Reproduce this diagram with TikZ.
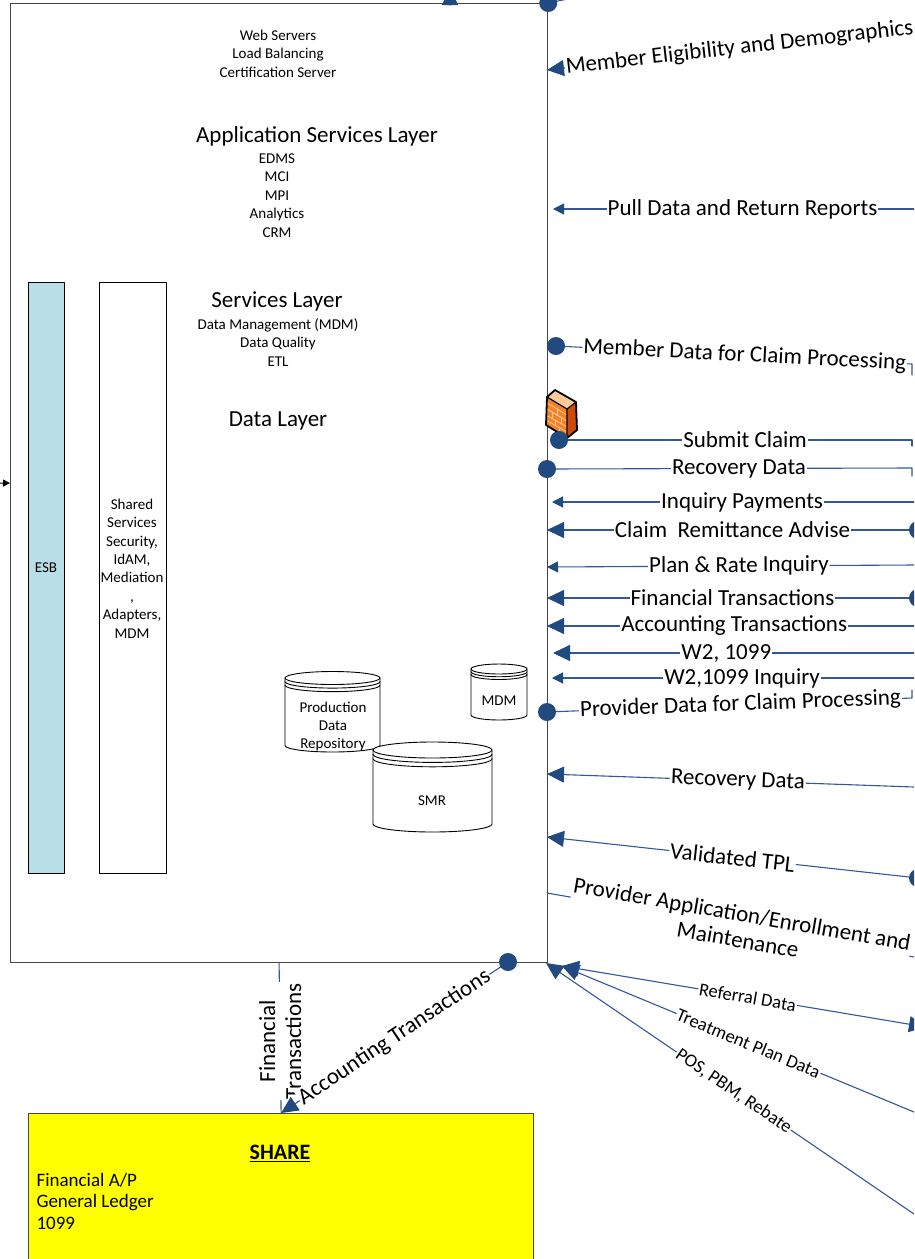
\documentclass[tikz,border=0pt]{standalone}
\usepackage{fontspec}
\setmainfont{Carlito}
\usepackage{tikz}
\usetikzlibrary{arrows.meta}
\definecolor{zzqqtt}{rgb}{0.13,0.29,0.5}
\definecolor{zzuutt}{rgb}{0.2,0.34,0.6}
\definecolor{bbddee}{rgb}{0.72,0.87,0.91}
\definecolor{ffffqq}{rgb}{1,1,0}
\definecolor{uuuuuu}{rgb}{0.27,0.27,0.27}
\definecolor{ffttqq}{rgb}{0.96,0.51,0.16}
\definecolor{ddzzqq}{rgb}{0.8,0.3,0.05}
\definecolor{ffccww}{rgb}{1,0.8,0.6}
% left x, right x, top centre y, bottom centre y, y radius
\newcommand{\dbcyl}[5]{%
	\filldraw[fill=white,draw=black,line width=0.9pt] (#1,#3) -- (#1,#4) arc[start angle=180,end angle=0,x radius={(#2-#1)/2},y radius=#5] -- (#2,#3) arc[start angle=0,end angle=-180,x radius={(#2-#1)/2},y radius=#5] -- cycle;
	\draw[line width=0.9pt] (#1,#3) arc[start angle=180,end angle=0,x radius={(#2-#1)/2},y radius=#5];
	\draw[line width=0.9pt] (#1,#3+0.55*#5) arc[start angle=180,end angle=0,x radius={(#2-#1)/2},y radius=#5];
	\draw[line width=0.9pt] (#1,#3+1.1*#5) arc[start angle=180,end angle=0,x radius={(#2-#1)/2},y radius=#5];}

\begin{document}
\begin{tikzpicture}[line cap=round,line join=round,x=1pt,y=-1pt,
	conn/.style={draw=zzuutt,line width=1.1pt},
	arrL/.style={conn,-{Triangle[length=17pt,width=16pt,color=zzqqtt]}},
	arrS/.style={conn,-{Triangle[length=11pt,width=11pt,color=zzqqtt]}},
	lab/.style={fill=white,inner sep=1pt,font=\fontsize{23}{26}\selectfont},
	labs/.style={fill=white,inner sep=1pt,font=\fontsize{18.5}{21}\selectfont},
	txt/.style={font=\fontsize{15}{18.4}\selectfont,align=center},
	layer/.style={font=\fontsize{23}{26}\selectfont}]
	\useasboundingbox (0,0) rectangle (914,1259);
	\clip (0,0) rectangle (914,1259);
	% system box and its inner columns
	\node (sys) [draw=uuuuuu,line width=1.2pt,minimum width=537,minimum height=959,anchor=north west,inner sep=0] at (10,3) {};
	\node (esb) [draw=black,fill=bbddee,line width=1pt,minimum width=36,minimum height=591,anchor=north west,inner sep=0] at (28,282) {};
	\node (esbtxt) [txt] at (46,568) {ESB};
	\node (shs) [draw=black,line width=1pt,minimum width=67,minimum height=591,anchor=north west,inner sep=0] at (99,282) {};
	\node (shstxt) [txt] at (132,568.5) {Shared\\Services\\Security,\\IdAM,\\Mediation\\,\\Adapters,\\MDM};
	\node (web) [txt] at (278,53.5) {Web Servers\\Load Balancing\\Certification Server};
	\node (asl) [layer] at (317,136) {Application Services Layer};
	\node (asllist) [txt] at (277,195.5) {EDMS\\MCI\\MPI\\Analytics\\CRM};
	\node (svl) [layer] at (277,301) {Services Layer};
	\node (svllist) [txt] at (278,342.5) {Data Management (MDM)\\Data Quality\\ETL};
	\node (dal) [layer] at (278,421) {Data Layer};
	% data stores
	\dbcyl{285}{380}{678}{745.5}{6.5}
	\node (pdr) [txt] at (333,726.5) {Production\\Data\\Repository};
	\dbcyl{471}{527}{669}{715}{5}
	\node (mdm) [txt] at (499,701) {MDM};
	\dbcyl{373}{492}{750}{824}{8}
	\node (smr) [txt] at (432,801) {SMR};
	% firewall
	\fill[ffttqq] (547,397) -- (567,409) -- (567,438) -- (546,425) -- cycle;
	\fill[ddzzqq] (567,409) -- (576,402) -- (577,430) -- (567,438) -- cycle;
	\fill[ffccww] (547,397) -- (555,390) -- (576,402) -- (567,409) -- cycle;
	\draw[ffccww,line width=0.8pt] (547,403) -- (567,415);
	\draw[ffccww,line width=0.8pt] (547,409) -- (567,421);
	\draw[ffccww,line width=0.8pt] (546,415) -- (567,427);
	\draw[ffccww,line width=0.8pt] (546,420) -- (567,432);
	\draw[ffccww,line width=0.8pt] (557,409) -- (557,415) (552,412) -- (552,418) (561,418) -- (561,424) (555,420) -- (555,426) (559,429) -- (559,434);
	\draw[black,line width=1.8pt] (547,397) -- (555,390) -- (576,402) -- (577,430) -- (567,438) -- (546,425) -- cycle;
	\draw[black,line width=1.2pt] (547,397) -- (567,409) -- (567,438) (567,409) -- (576,402);
	% SHARE
	\node (share) [draw=uuuuuu,fill=ffffqq,line width=1.2pt,minimum width=505,minimum height=170,anchor=north west,inner sep=0] at (28,1113) {};
	\node (sharetitle) [font=\fontsize{22}{25}\selectfont\bfseries] at (280,1153) {\underline{SHARE}};
	\node (sharelist) [font=\fontsize{19}{21.5}\selectfont,align=left,anchor=west] at (33,1201) {Financial A/P\\General Ledger\\1099};
	% connector ends
	\coordinate (stub) at (0,483);
	\coordinate (upS) at (450,5);
	\coordinate (upE) at (450,-12);
	\coordinate (topR) at (592,-6);
	\coordinate (meL) at (547,70);  \coordinate (meR) at (914,28);
	\coordinate (pdL) at (553,209); \coordinate (pdR) at (914,209);
	\coordinate (mdL) at (556,346); \coordinate (mdR) at (912,364);
	\coordinate (scL) at (559,440); \coordinate (scR) at (912,440);
	\coordinate (rdL) at (547,469); \coordinate (rdR) at (912,468);
	\coordinate (ipL) at (552,502); \coordinate (ipR) at (914,502);
	\coordinate (crL) at (547,530); \coordinate (crR) at (918,530);
	\coordinate (prL) at (547,567); \coordinate (prR) at (914,565);
	\coordinate (ftL) at (547,598); \coordinate (ftR) at (918,598);
	\coordinate (atL) at (547,626); \coordinate (atR) at (914,626);
	\coordinate (wtL) at (553,653); \coordinate (wtR) at (914,653);
	\coordinate (wiL) at (552,678); \coordinate (wiR) at (914,678);
	\coordinate (pvL) at (547,712); \coordinate (pvR) at (912,698);
	\coordinate (rvL) at (547,774); \coordinate (rvR) at (914,787);
	\coordinate (tpL) at (547,837); \coordinate (tpR) at (918,878);
	\coordinate (paL) at (547,893); \coordinate (paR) at (914,957);
	\coordinate (rfL) at (562,966); \coordinate (rfR) at (926,1027);
	\coordinate (tmR) at (914,1112);
	\coordinate (psL) at (546,963); \coordinate (psR) at (914,1214);
	\coordinate (acc) at (508,962);
	% connectors
	\draw[-{Triangle[length=7pt,width=7pt]},line width=1pt] (stub) -- (sys.west);
	\draw[arrL] (upS) -- (upE);
	\draw[conn] (sys.north east) -- (topR);
	\draw[arrL] (meR) -- node[lab,sloped,pos=0.475] {Member Eligibility and Demographics} (meL);
	\draw[arrS] (pdR) -- node[lab,pos=0.475] {Pull Data and Return Reports} (pdL);
	\draw[conn] (mdL) -- node[lab,sloped,pos=0.53] {Member Data for Claim Processing} (mdR) -- ++(0,11);
	\draw[conn] (scL) -- node[lab,pos=0.527] {Submit Claim} (scR) -- ++(0,6);
	\draw[conn] (rdL) -- node[lab,pos=0.526] {Recovery Data} (rdR) -- ++(0,8);
	\draw[arrS] (ipR) -- node[lab,pos=0.475] {Inquiry Payments} (ipL);
	\draw[arrL] (crR) -- node[lab,pos=0.5] {Claim\ \ Remittance Advise} (crL);
	\draw[arrS] (prR) -- node[lab,sloped,pos=0.477] {Plan \& Rate Inquiry} (prL);
	\draw[arrL] (ftR) -- node[lab,pos=0.5] {Financial Transactions} (ftL);
	\draw[arrL] (atR) -- node[lab,pos=0.49] {Accounting Transactions} (atL);
	\draw[arrL] (wtR) -- node[lab,pos=0.52] {W2, 1099} (wtL);
	\draw[arrS] (wiR) -- node[lab,pos=0.475] {W2,1099 Inquiry} (wiL);
	\draw[conn] (pvL) -- node[lab,sloped,pos=0.53] {Provider Data for Claim Processing} (pvR) -- ++(0,-8);
	\draw[arrL] (rvR) -- node[lab,sloped,pos=0.48] {Recovery Data} (rvL);
	\draw[arrL] (tpR) -- node[lab,sloped,pos=0.5] {Validated TPL} (tpL);
	\draw[conn] (paL) -- node[lab,sloped,pos=0.526,align=center] {Provider Application/Enrollment and\\Maintenance} (paR);
	\draw[arrL] (tmR) -- node[labs,sloped,pos=0.47] {Treatment Plan Data} (rfL);
	\draw[conn,{Triangle[length=17pt,width=16pt,color=zzqqtt]}-{Triangle[length=17pt,width=16pt,color=zzqqtt]}] (rfL) -- node[labs,sloped,pos=0.51] {Referral Data} (rfR);
	\draw[arrL] (psR) -- node[labs,sloped,pos=0.49] {POS, PBM, Rebate} (psL);
	\draw[conn] (sys.south) -- node[lab,rotate=90,pos=0.52,align=center] {Financial\\Transactions} (share.north);
	\draw[arrL] (acc) -- node[lab,sloped] {Accounting Transactions} (share.north);
	% connection dots
	\fill[zzqqtt] (sys.north east) circle (9pt);
	\fill[zzqqtt] (mdL) circle (9pt);
	\fill[zzqqtt] (scL) circle (9pt);
	\fill[zzqqtt] (rdL) circle (9pt);
	\fill[zzqqtt] (crR) circle (9pt);
	\fill[zzqqtt] (ftR) circle (9pt);
	\fill[zzqqtt] (pvL) circle (9pt);
	\fill[zzqqtt] (tpR) circle (9pt);
	\fill[zzqqtt] (acc) circle (9pt);
\end{tikzpicture}
\end{document}
